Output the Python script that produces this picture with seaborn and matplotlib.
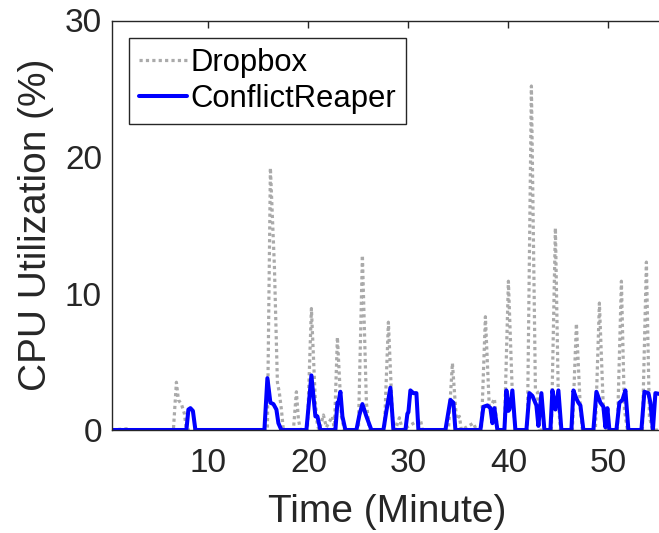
import matplotlib
matplotlib.use("Agg")
import matplotlib.pyplot as plt
import seaborn as sns
import pandas as pd

# ---- data ----
dropbox_t = [0.33, 2.0, 2.3, 6.5, 6.8, 7.0, 7.3, 7.6, 7.8,
             15.9, 16.2, 16.6, 16.9, 17.1, 17.3, 17.5,
             18.5, 18.8, 19.0, 19.2, 19.9, 20.3, 20.7, 20.9, 21.1, 21.5, 21.8,
             22.4, 22.6, 22.9, 23.3, 23.6, 25.0, 25.4, 25.8, 26.1,
             27.6, 28.0, 28.4, 28.7, 29.1, 29.4, 31.2, 31.4,
             34.0, 34.4, 34.8, 35.1, 35.3, 36.5, 36.8,
             37.3, 37.7, 38.1, 38.6, 38.9, 39.6, 40.0, 40.4, 40.7,
             41.9, 42.3, 42.7, 42.9, 43.1, 44.3, 44.7, 45.0, 45.2,
             46.4, 46.8, 47.2, 47.4, 48.7, 49.1, 49.5, 49.8,
             50.9, 51.3, 51.6, 51.9, 53.4, 53.8, 54.1, 54.4, 55.4]
dropbox_v = [0.0, 0.1, 0.0, 0.0, 3.5, 2.2, 1.9, 1.2, 0.0,
             0.0, 19.2, 12.0, 3.5, 2.7, 1.5, 0.0,
             0.0, 2.8, 0.8, 0.0, 0.0, 8.9, 2.0, 0.3, 0.0, 1.1, 0.2,
             1.0, 0.0, 6.8, 1.0, 0.0, 0.0, 12.8, 2.0, 0.0,
             0.0, 7.9, 1.0, 0.0, 0.9, 0.0, 0.8, 0.0,
             0.0, 4.9, 0.8, 1.0, 0.0, 0.5, 0.0,
             0.0, 8.3, 1.5, 2.3, 0.0, 0.0, 10.9, 2.5, 0.0,
             0.0, 25.2, 3.0, 2.8, 0.0, 0.0, 14.8, 2.0, 0.0,
             0.0, 7.8, 1.5, 0.0, 0.0, 9.3, 1.5, 0.0,
             0.0, 10.9, 1.5, 0.0, 0.0, 12.3, 1.0, 0.0, 0.0]

reaper_t = [0.33, 7.8, 8.0, 8.2, 8.45, 8.7,
            15.6, 15.9, 16.2, 16.5, 16.8, 17.0, 17.3,
            19.8, 20.3, 20.7, 20.9, 21.2,
            22.7, 22.9, 23.0, 23.2, 23.4, 23.7,
            24.8, 25.1, 25.4, 25.8, 26.3,
            27.5, 27.8, 28.2, 28.5,
            29.7, 29.9, 30.0, 30.2, 30.5, 30.8, 31.0,
            33.7, 34.2, 34.5, 34.7,
            37.2, 37.5, 37.9, 38.2, 38.4, 38.6, 38.9,
            39.6, 39.8, 40.0, 40.1, 40.4, 40.7,
            41.8, 42.1, 42.4, 42.8, 43.0, 43.3, 43.6,
            44.2, 44.4, 44.7, 45.0, 45.3,
            46.3, 46.5, 46.8, 47.0, 47.2, 47.5,
            48.5, 48.8, 49.2, 49.5, 49.7, 49.9, 50.1,
            50.8, 51.1, 51.4, 51.7, 52.0,
            53.3, 53.6, 54.0, 54.2, 54.45, 54.7, 55.4]
reaper_v = [0.0, 0.0, 1.5, 1.6, 1.4, 0.0,
            0.0, 3.8, 2.0, 1.9, 1.5, 0.5, 0.0,
            0.0, 4.0, 1.0, 1.0, 0.0,
            0.0, 2.0, 2.0, 2.8, 1.0, 0.0,
            0.0, 1.1, 1.9, 1.0, 0.0,
            0.0, 1.4, 3.1, 0.0,
            0.0, 1.2, 1.3, 2.9, 2.7, 2.7, 0.0,
            0.0, 2.2, 2.0, 0.0,
            0.0, 1.7, 1.8, 1.6, 0.5, 1.6, 0.0,
            0.0, 2.9, 1.4, 1.5, 2.9, 0.0,
            0.0, 2.7, 2.5, 1.8, 0.3, 2.7, 0.0,
            0.0, 2.9, 1.5, 2.9, 0.0,
            0.0, 2.9, 2.3, 2.0, 1.8, 0.0,
            0.0, 2.8, 2.0, 1.7, 0.2, 1.6, 0.0,
            0.0, 2.0, 2.2, 2.9, 0.0,
            0.0, 2.8, 2.7, 2.0, 0.0, 2.7, 2.6]

series_names = ["Dropbox", "ConflictReaper"]
x_ticks = [10, 20, 30, 40, 50]
y_ticks = [0, 10, 20, 30]

# ---- style ----
sns.set_style("white")
plt.rcParams["font.family"] = ["Liberation Sans", "DejaVu Sans"]
dark = "#262626"

W, H = 659, 533
fig = plt.figure(figsize=(W / 100, H / 100), dpi=100)
# axes box extends slightly past the right edge (right spine cropped in reference)
left, right, top, bottom = 111.7, 663.0, 20.5, 430.0
ax = fig.add_axes([left / W, 1 - bottom / H, (right - left) / W, (bottom - top) / H])

df_d = pd.DataFrame({"t": dropbox_t, "v": dropbox_v})
df_r = pd.DataFrame({"t": reaper_t, "v": reaper_v})

sns.lineplot(data=df_d, x="t", y="v", ax=ax, color="#aaaaaa",
             linestyle=(0, (1, 1)), linewidth=2.3, label=series_names[0])
sns.lineplot(data=df_r, x="t", y="v", ax=ax, color="#0000ff",
             linewidth=2.9, label=series_names[1])

ax.set_xlim(0.33, 0.33 + (right - left) / 10.0)
ax.set_ylim(0, 30)
ax.set_xticks(x_ticks)
ax.set_yticks(y_ticks)
ax.tick_params(direction="in", top=True, right=False, length=5, width=1,
               color=dark, labelcolor=dark, labelsize=24)
ax.tick_params(axis="x", pad=13)
ax.tick_params(axis="y", pad=7)
for s in ax.spines.values():
    s.set_color(dark)
    s.set_linewidth(1.0)

ax.set_xlabel("Time (Minute)", fontsize=28, color=dark, labelpad=11)
ax.set_ylabel("CPU Utilization (%)", fontsize=28, color=dark, labelpad=8)

leg = ax.legend(loc="upper left", bbox_to_anchor=(129 / W, 1 - 38 / H),
                bbox_transform=fig.transFigure, borderaxespad=0,
                fontsize=22.3, frameon=True, fancybox=False, framealpha=1,
                edgecolor=dark, handlelength=1.55, handletextpad=0.12,
                labelspacing=0.2, borderpad=0.32)
leg.get_frame().set_linewidth(1.0)
for t in leg.get_texts():
    t.set_color("black")

fig.savefig("out.png", dpi=100)
